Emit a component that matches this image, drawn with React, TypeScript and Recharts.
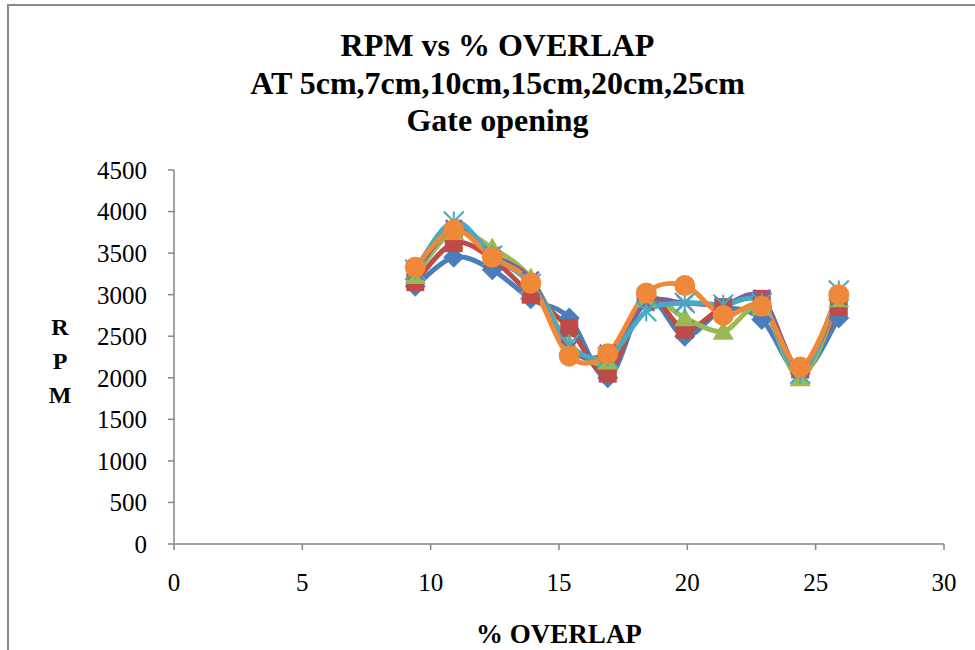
import React from "react";
import { LineChart, Line, XAxis, YAxis } from "recharts";

const overlap = [9.4, 10.9, 12.4, 13.9, 15.4, 16.9, 18.4, 19.9, 21.4, 22.9, 24.4, 25.9];
const rpm5cm = [3100, 3450, 3300, 2950, 2720, 2000, 2950, 2500, 2820, 2700, 2050, 2720];
const rpm7cm = [3150, 3620, 3430, 3000, 2600, 2050, 2980, 2580, 2850, 2950, 2100, 2850];
const rpm10cm = [3230, 3760, 3560, 3200, 2400, 2200, 2950, 2720, 2560, 2850, 2000, 2950];
const rpm15cm = [3280, 3800, 3480, 3180, 2350, 2300, 2900, 2900, 2880, 2960, 2100, 2970];
const rpm20cm = [3300, 3880, 3470, 3130, 2400, 2250, 2800, 2900, 2880, 2900, 2050, 3050];
const rpm25cm = [3330, 3780, 3450, 3140, 2260, 2290, 3020, 3110, 2750, 2860, 2130, 3000];

const xTicks = [0, 5, 10, 15, 20, 25, 30];
const yTicks = [0, 500, 1000, 1500, 2000, 2500, 3000, 3500, 4000, 4500];

const titleLines = ["RPM vs % OVERLAP", "AT 5cm,7cm,10cm,15cm,20cm,25cm", "Gate opening"];

const data = overlap.map((x, i) => ({
  x,
  s5: rpm5cm[i],
  s7: rpm7cm[i],
  s10: rpm10cm[i],
  s15: rpm15cm[i],
  s20: rpm20cm[i],
  s25: rpm25cm[i],
}));

const C = {
  blue: "#4A7EBB",
  red: "#BE4B48",
  green: "#98B954",
  purple: "#7D60A0",
  cyan: "#46AAC5",
  orange: "#F0883A",
};

function excelSmooth(context: any) {
  let xs: number[] = [];
  let ys: number[] = [];
  return {
    areaStart() {},
    areaEnd() {},
    lineStart() {
      xs = [];
      ys = [];
    },
    lineEnd() {
      const n = xs.length;
      if (!n) return;
      context.moveTo(xs[0], ys[0]);
      for (let i = 0; i < n - 1; i++) {
        const x0 = i > 0 ? xs[i - 1] : xs[i];
        const y0 = i > 0 ? ys[i - 1] : ys[i];
        const x3 = i + 2 < n ? xs[i + 2] : xs[i + 1];
        const y3 = i + 2 < n ? ys[i + 2] : ys[i + 1];
        context.bezierCurveTo(
          xs[i] + (xs[i + 1] - x0) / 6,
          ys[i] + (ys[i + 1] - y0) / 6,
          xs[i + 1] - (x3 - xs[i]) / 6,
          ys[i + 1] - (y3 - ys[i]) / 6,
          xs[i + 1],
          ys[i + 1]
        );
      }
    },
    point(x: number, y: number) {
      xs.push(+x);
      ys.push(+y);
    },
  };
}

const Diamond = (p: any) => {
  const { cx, cy } = p;
  const r = 10.5;
  return <path key={p.index} d={`M${cx},${cy - r}L${cx + r},${cy}L${cx},${cy + r}L${cx - r},${cy}Z`} fill={C.blue} />;
};
const Square = (p: any) => {
  const { cx, cy } = p;
  const r = 9;
  return <rect key={p.index} x={cx - r} y={cy - r} width={2 * r} height={2 * r} fill={C.red} />;
};
const Triangle = (p: any) => {
  const { cx, cy } = p;
  const r = 10.5;
  return <path key={p.index} d={`M${cx},${cy - r}L${cx + r},${cy + r * 0.8}L${cx - r},${cy + r * 0.8}Z`} fill={C.green} />;
};
const XMark = (p: any) => {
  const { cx, cy } = p;
  const r = 8;
  return (
    <path key={p.index} d={`M${cx - r},${cy - r}L${cx + r},${cy + r}M${cx + r},${cy - r}L${cx - r},${cy + r}`} stroke={C.purple} strokeWidth={2.5} fill="none" />
  );
};
const Star = (p: any) => {
  const { cx, cy } = p;
  const r = 10;
  return (
    <path
      key={p.index}
      d={`M${cx - r},${cy - r}L${cx + r},${cy + r}M${cx + r},${cy - r}L${cx - r},${cy + r}M${cx},${cy - r}L${cx},${cy + r}`}
      stroke={C.cyan}
      strokeWidth={2}
      fill="none"
    />
  );
};
const Circle = (p: any) => {
  const { cx, cy } = p;
  return <circle key={p.index} cx={cx} cy={cy} r={10.5} fill={C.orange} />;
};

const serif = '"Liberation Serif", serif';
const tickStyle = { fontSize: 25, fontFamily: serif, fill: "#000" };

const series = [
  { key: "s5", color: C.blue, dot: Diamond },
  { key: "s7", color: C.red, dot: Square },
  { key: "s10", color: C.green, dot: Triangle },
  { key: "s15", color: C.purple, dot: XMark },
  { key: "s20", color: C.cyan, dot: Star },
  { key: "s25", color: C.orange, dot: Circle },
];

export default function App() {
  return (
    <div style={{ position: "fixed", left: 0, top: 0, width: 975, height: 650, overflow: "hidden", background: "#fff", fontFamily: serif }}>
      <div
        style={{
          position: "absolute",
          left: 7,
          top: 4,
          width: 1100,
          height: 800,
          border: "2px solid #8a8a8a",
          boxSizing: "border-box",
        }}
      />
      <div style={{ position: "absolute", left: 0, top: 0 }}>
        <LineChart width={975} height={650} data={data} margin={{ top: 170, right: 31, left: 0, bottom: 46 }}>
          <XAxis
            dataKey="x"
            type="number"
            domain={[0, 30]}
            ticks={xTicks}
            allowDataOverflow
            tick={tickStyle}
            tickSize={6}
            tickMargin={23}
            height={60}
            stroke="#868686"
            strokeWidth={1.5}
          />
          <YAxis
            type="number"
            domain={[0, 4500]}
            ticks={yTicks}
            tick={tickStyle}
            tickSize={6}
            tickMargin={21}
            width={174}
            stroke="#868686"
            strokeWidth={1.5}
          />
          {series.map((s) => (
            <Line
              key={s.key}
              dataKey={s.key}
              type={excelSmooth as any}
              stroke={s.color}
              strokeWidth={5}
              dot={s.dot}
              activeDot={false}
              isAnimationActive={false}
            />
          ))}
        </LineChart>
      </div>
      {titleLines.map((t, i) => (
        <div
          key={i}
          style={{
            position: "absolute",
            left: 0,
            width: 995,
            top: 27 + i * 37.5,
            textAlign: "center",
            fontFamily: serif,
            fontWeight: "bold",
            fontSize: 32,
            lineHeight: "37.5px",
            color: "#000",
            whiteSpace: "nowrap",
          }}
        >
          {t}
        </div>
      ))}
      <div
        style={{
          position: "absolute",
          left: 40,
          width: 40,
          top: 310,
          textAlign: "center",
          fontFamily: serif,
          fontWeight: "bold",
          fontSize: 24,
          lineHeight: "34px",
          color: "#000",
        }}
      >
        <div>R</div>
        <div>P</div>
        <div>M</div>
      </div>
      <div
        style={{
          position: "absolute",
          left: 359,
          width: 400,
          top: 619,
          textAlign: "center",
          fontFamily: serif,
          fontWeight: "bold",
          fontSize: 27,
          lineHeight: "30px",
          color: "#000",
          whiteSpace: "nowrap",
        }}
      >
        % OVERLAP
      </div>
    </div>
  );
}
